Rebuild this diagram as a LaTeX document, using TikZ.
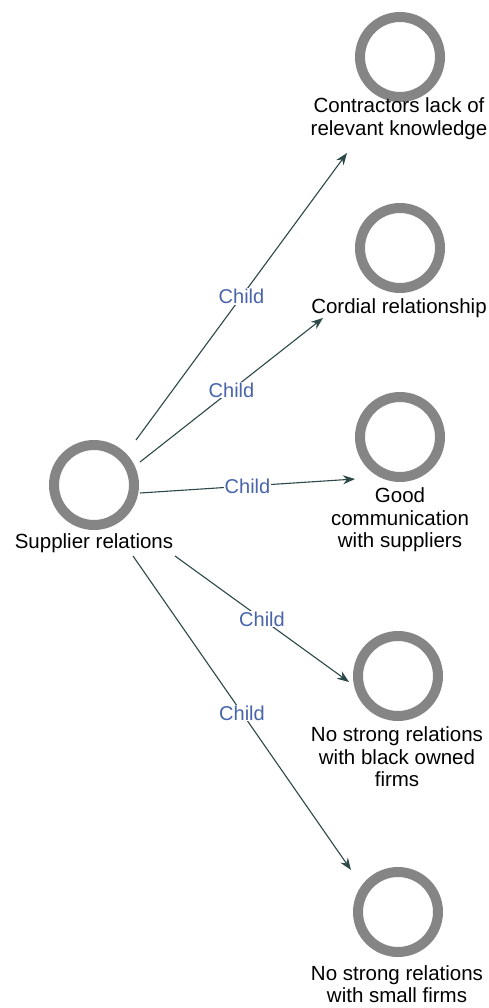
\documentclass[tikz,border=0pt]{standalone}
\usepackage{fontspec}
\setmainfont{Liberation Sans}
\usetikzlibrary{arrows.meta}
\definecolor{ringgray}{RGB}{133,133,133}
\definecolor{edgecol}{RGB}{45,72,72}
\definecolor{childblue}{RGB}{72,100,170}
\tikzset{
  ring/.style={circle, draw=ringgray, line width=10pt, minimum size=80pt, inner sep=0pt, outer sep=0pt},
  lbl/.style={align=center, font=\fontsize{20.5}{22.6}\selectfont, text=black, inner sep=0pt},
  edge/.style={draw=edgecol, line width=1.1pt, -{Stealth[length=12pt,width=9pt]}},
  childlbl/.style={fill=white, text=childblue, font=\fontsize{20}{22}\selectfont, inner sep=1pt, midway}
}
\begin{document}
\begin{tikzpicture}[x=1pt,y=-1pt]
\useasboundingbox[fill=white] (0,0) rectangle (489,1008);
% nodes
\node[ring] (sup) at (94,485) {};
\node[lbl] (supt) at (94,543) {Supplier relations};
\node[ring] (n1) at (400,57) {};
\node[lbl] (t1) at (399,119) {Contractors lack of\\relevant knowledge};
\node[ring] (n2) at (400,248) {};
\node[lbl] (t2) at (399,308) {Cordial relationship};
\node[ring] (n3) at (400,437) {};
\node[lbl] (t3) at (400,520) {Good\\communication\\with suppliers};
\node[ring] (n4) at (398,676) {};
\node[lbl] (t4) at (397,757) {No strong relations\\with black owned\\firms};
\node[ring] (n5) at (398,912) {};
\node[lbl] (t5) at (397,984) {No strong relations\\with small firms};
% connector end points
\coordinate (s1) at (136,440);
\coordinate (e1) at (347,153);
\coordinate (s2) at (140,462);
\coordinate (e2) at (323,318);
\coordinate (s3) at (140,493);
\coordinate (e3) at (355,479);
\coordinate (s4) at (175,556);
\coordinate (e4) at (349,682);
\coordinate (s5) at (133,556);
\coordinate (e5) at (351,870);
% connectors
\draw[edge] (s1) -- node[childlbl]{Child} (e1);
\draw[edge] (s2) -- node[childlbl]{Child} (e2);
\draw[edge] (s3) -- node[childlbl]{Child} (e3);
\draw[edge] (s4) -- node[childlbl]{Child} (e4);
\draw[edge] (s5) -- node[childlbl]{Child} (e5);
\end{tikzpicture}
\end{document}
